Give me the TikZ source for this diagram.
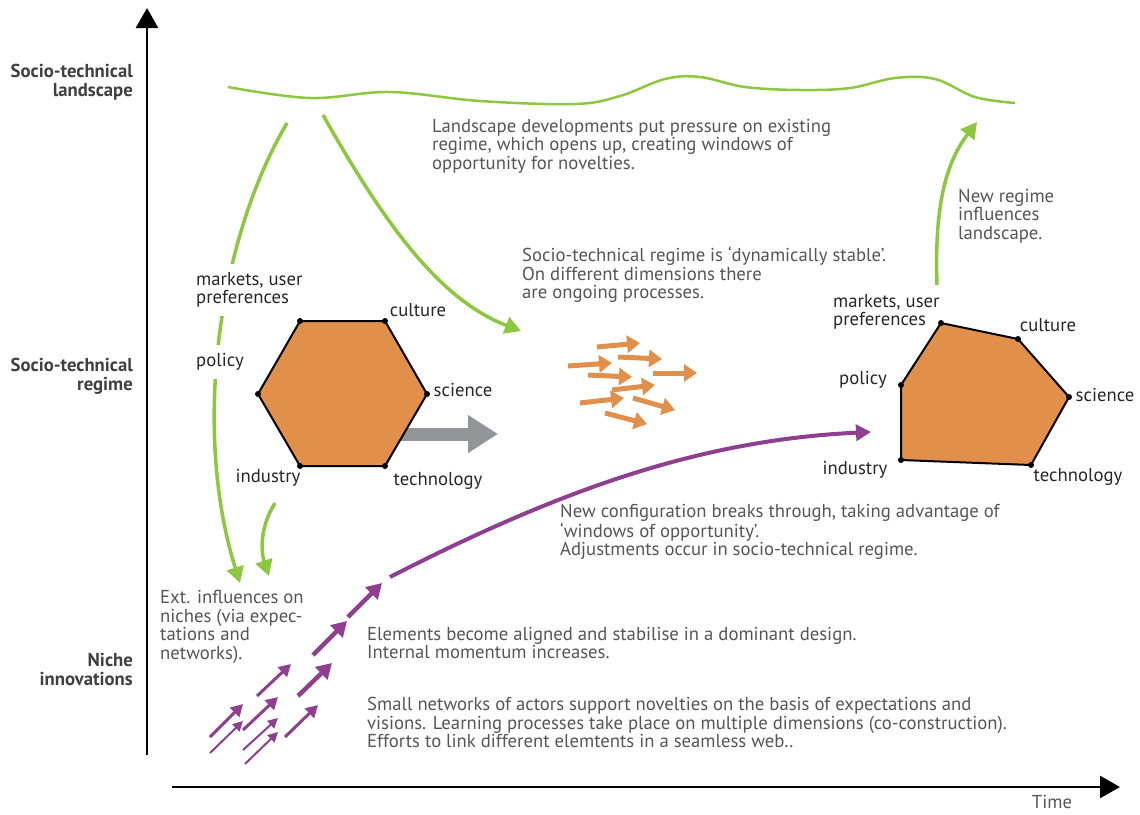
\documentclass[tikz,border=0pt]{standalone}
\usepackage{fontspec}
\setmainfont{PT Sans}
\usetikzlibrary{arrows.meta}

\definecolor{leaf}{HTML}{8DC63F}
\definecolor{plum}{HTML}{8E3F8F}
\definecolor{clay}{HTML}{E0904A}
\definecolor{ash}{HTML}{939598}
\definecolor{ink}{HTML}{555555}

\begin{document}
\begin{tikzpicture}[x=1pt, y=-1pt,
  every node/.style={font=\fontsize{18.7}{18.5}\selectfont, text=ink, inner sep=1pt},
  level label/.style={font=\bfseries\fontsize{18.7}{19}\selectfont, align=right, anchor=east, text=black!75},
  note/.style={align=left, anchor=north west},
  dim/.style={text=black!85},
  gap/.style={dim, fill=white, inner sep=8pt},
  axis/.style={line width=2.5pt, -{Triangle[length=20pt,width=22pt]}},
  green arrow/.style={leaf, line width=3.5pt, -{Triangle[length=16pt,width=17pt]}},
  clay arrow/.style={clay, line width=5pt, -{Triangle[length=13pt,width=17pt]}},
  plum arrow/.style={plum, line width=4pt, -{Triangle[length=15pt,width=16pt]}}]
\useasboundingbox (0,0) rectangle (1140,814);

% axes
\coordinate (o1) at (147,755);
\coordinate (ytop) at (147,8);
\coordinate (o2) at (172,787);
\coordinate (xend) at (1120,787);
\draw[axis] (o1) -- (ytop);
\draw[axis] (o2) -- (xend);
\node (time) at (1052,802) {Time};

\node[level label] (land) at (134,82) {Socio-technical\\landscape};
\node[level label] (regime) at (134,376) {Socio-technical\\regime};
\node[level label] (niche) at (134,669) {Niche\\innovations};

% landscape
\draw[leaf, line width=2.5pt] plot[smooth, tension=0.6] coordinates {(228,87) (310,98) (390,92) (480,101) (575,104) (620,96) (665,79) (700,77) (745,87) (800,90) (850,88) (895,78) (935,79) (975,97) (1015,103)};
\node[note] (ldev) at (431,118) {Landscape developments put pressure on existing\\regime, which opens up, creating windows of\\opportunity for novelties.};

% green arrows
\coordinate (g1) at (287,123);
\coordinate (g1e) at (240,583);
\coordinate (g2) at (323,115);
\coordinate (g2e) at (521,331);
\coordinate (g3) at (275,503);
\coordinate (g3e) at (269,576);
\coordinate (g4) at (937,285);
\coordinate (g4e) at (977,122);
\draw[green arrow] (g1) .. controls (218,240) and (192,430) .. (g1e);
\draw[green arrow] (g2) .. controls (385,225) and (440,300) .. (g2e);
\draw[green arrow] (g3) .. controls (258,530) and (262,555) .. (g3e);
\draw[green arrow] (g4) .. controls (934,200) and (948,160) .. (g4e);

% regime now
\coordinate (push) at (395,434);
\coordinate (pushe) at (498,434);
\draw[ash, line width=13pt, -{Triangle[length=30pt,width=36pt]}] (push) -- (pushe);

\coordinate (h1) at (300,321);
\coordinate (h2) at (385,321);
\coordinate (h3) at (427,394);
\coordinate (h4) at (385,466);
\coordinate (h5) at (300,466);
\coordinate (h6) at (258,394);
\draw[fill=clay, line width=2pt, line join=round] (h1) -- (h2) -- (h3) -- (h4) -- (h5) -- (h6) -- cycle;
\foreach \v in {h1,h2,h3,h4,h5,h6}
  \fill (\v) circle (3pt);

\node[gap, note, anchor=west] (mkt) at (188,290) {markets, user\\preferences};
\node[gap] (pol) at (220,362) {policy};
\node[dim] (cul) at (418,310) {culture};
\node[dim] (sci) at (463,390) {science};
\node[dim] (tec) at (438,481) {technology};
\node[dim] (ind) at (268,478) {industry};

\node[note] (stable) at (521,246) {Socio-technical regime is ‘dynamically stable’.\\On different dimensions there\\are ongoing processes.};

% ongoing processes
\foreach \xa/\ya/\xb/\yb in {597/347/640/343, 618/357/662/359, 568/366/612/363, 653/373/697/373,
  588/375/632/377, 612/390/655/385, 580/403/624/398, 633/398/675/410, 605/413/647/424}
  \draw[clay arrow] (\xa,\ya) -- (\xb,\yb);

% new regime
\coordinate (r1) at (941,323);
\coordinate (r2) at (1018,339);
\coordinate (r3) at (1069,397);
\coordinate (r4) at (1031,465);
\coordinate (r5) at (901,460);
\coordinate (r6) at (901,385);
\draw[fill=clay, line width=2pt, line join=round] (r1) -- (r2) -- (r3) -- (r4) -- (r5) -- (r6) -- cycle;
\foreach \v in {r1,r2,r3,r4,r5,r6}
  \fill (\v) circle (3pt);

\node[dim, note, anchor=west] (mkt2) at (832,312) {markets, user\\preferences};
\node[dim] (pol2) at (863,380) {policy};
\node[dim] (cul2) at (1048,325) {culture};
\node[dim] (sci2) at (1105,395) {science};
\node[dim] (tec2) at (1078,477) {technology};
\node[dim] (ind2) at (855,470) {industry};

\node[note] (infl) at (957,188) {New regime\\influences\\landscape.};

% niches
\coordinate (p0) at (390,577);
\coordinate (p0e) at (871,432);
\draw[plum arrow] (p0) .. controls (560,490) and (700,440) .. (p0e);
\foreach \xa/\ya/\xb/\yb in {348/617/382/583, 313/655/347/621, 298/696/332/663}
  \draw[plum, line width=4.5pt, -{Triangle[length=15pt,width=17pt]}] (\xa,\ya) -- (\xb,\yb);
\foreach \xa/\ya/\xb/\yb in {257/696/291/664, 243/730/278/697, 210/737/243/704, 285/737/318/705}
  \draw[plum, line width=3pt, -{Triangle[length=12pt,width=13pt]}] (\xa,\ya) -- (\xb,\yb);
\foreach \xa/\ya/\xb/\yb in {210/753/243/721, 243/750/278/718, 245/764/278/732}
  \draw[plum, line width=2pt, -{Triangle[length=10pt,width=10pt]}] (\xa,\ya) -- (\xb,\yb);

\node[note] (ext) at (159,589) {Ext. influences on\\niches (via expec-\\tations and\\networks).};
\node[note] (brk) at (559,503) {New configuration breaks through, taking advantage of\\‘windows of opportunity’.\\Adjustments occur in socio-technical regime.};
\node[note] (align) at (366,626) {Elements become aligned and stabilise in a dominant design.\\Internal momentum increases.};
\node[note] (small) at (366,696) {Small networks of actors support novelties on the basis of expectations and\\visions. Learning processes take place on multiple dimensions (co-construction).\\Efforts to link different elemtents in a seamless web..};
\end{tikzpicture}
\end{document}
